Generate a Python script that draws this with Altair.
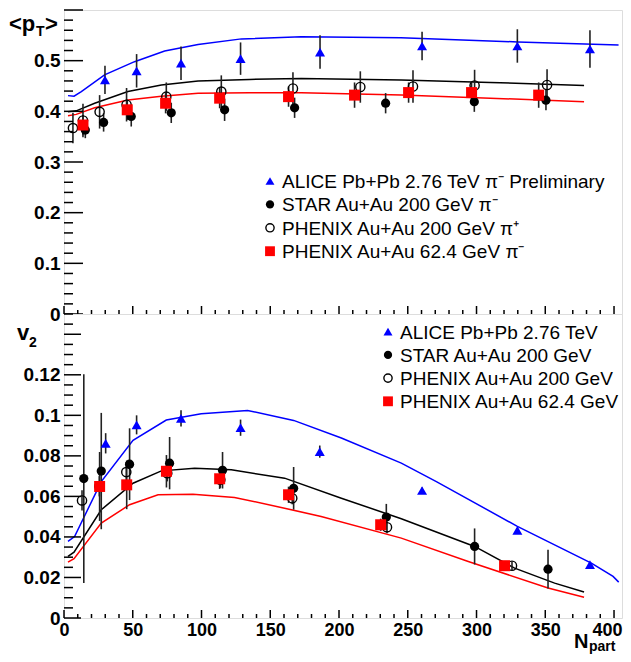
import altair as alt
import pandas as pd

FONT = "Liberation Sans"

# ---------------- axes / ticks ----------------
x_domain = [0, 405.8]
x_major = [0, 50, 100, 150, 200, 250, 300, 350, 400]
x_minor = [v for v in range(0, 401, 10) if v % 50 != 0]

pt_domain = [0, 0.6]
pt_labels = [0, 0.1, 0.2, 0.3, 0.4, 0.5]
pt_major = [0, 0.1, 0.2, 0.3, 0.4, 0.5, 0.6]
pt_minor = [round(i * 0.02, 3) for i in range(31) if i % 5 != 0]

v2_domain = [0, 0.15]
v2_labels = [0, 0.02, 0.04, 0.06, 0.08, 0.1, 0.12]
v2_major = [0, 0.02, 0.04, 0.06, 0.08, 0.1, 0.12, 0.14]
v2_minor = [round(i * 0.005, 4) for i in range(31) if i % 4 != 0]

# ---------------- <pT> panel data ----------------
alice_pt_n = [29.8, 52.8, 85.1, 128.4, 186.2, 260.4, 329.7, 382.5]
alice_pt = [0.462, 0.480, 0.495, 0.504, 0.517, 0.529, 0.529, 0.523]
alice_pt_err = [0.028, 0.033, 0.033, 0.032, 0.033, 0.028, 0.033, 0.037]

star_pt_n = [15.5, 28.8, 48.9, 78.0, 116.8, 167.7, 233.9, 298.4, 350.5]
star_pt = [0.363, 0.378, 0.390, 0.397, 0.403, 0.407, 0.416, 0.419, 0.422]
star_pt_err = [0.016, 0.018, 0.02, 0.02, 0.022, 0.02, 0.02, 0.02, 0.02]

phx200_pt_n = [6.5, 13.8, 25.9, 45.5, 74.4, 114.4, 166.5, 215.5, 253.8, 298.6, 351.3]
phx200_pt = [0.367, 0.382, 0.399, 0.413, 0.429, 0.439, 0.445, 0.448, 0.449, 0.451, 0.452]
phx200_pt_err = [0.03, 0.033, 0.033, 0.033, 0.028, 0.032, 0.032, 0.031, 0.032, 0.031, 0.031]

phx62_pt_n = [13.8, 46.0, 73.9, 113.2, 163.3, 211.3, 250.6, 296.4, 345.2]
phx62_pt = [0.373, 0.403, 0.416, 0.426, 0.429, 0.432, 0.437, 0.437, 0.432]
phx62_pt_err = [0.02, 0.02, 0.02, 0.02, 0.02, 0.025, 0.02, 0.02, 0.025]

curve_blue_pt_n = [2.9, 7.3, 12.6, 29.5, 51.3, 73.2, 97.5, 129, 172.6, 245, 330, 403.3]
curve_blue_pt = [0.431, 0.430, 0.439, 0.472, 0.498, 0.519, 0.532, 0.543, 0.547, 0.545, 0.537, 0.531]
curve_black_pt_n = [2.9, 8.9, 22.3, 46.5, 70.8, 97.5, 135, 172.6, 245.3, 310, 378.2]
curve_black_pt = [0.399, 0.401, 0.416, 0.439, 0.452, 0.460, 0.463, 0.465, 0.462, 0.457, 0.451]
curve_red_pt_n = [2.9, 8.9, 22.3, 46.5, 70.8, 97.5, 135, 172.6, 245.3, 310, 378.2]
curve_red_pt = [0.3915, 0.394, 0.407, 0.4225, 0.430, 0.4355, 0.4365, 0.4369, 0.4323, 0.426, 0.419]

# ---------------- v2 panel data ----------------
alice_v2_n = [30.3, 52.8, 85.1, 128.4, 186.0, 260.4, 329.7, 382.5]
alice_v2 = [0.0862, 0.0953, 0.0985, 0.0939, 0.0821, 0.0629, 0.0432, 0.0263]
alice_v2_err = [0.005, 0.0047, 0.004, 0.004, 0.003, 0.0015, 0.0012, 0.001]

star_v2_n = [14.4, 27.1, 47.7, 76.8, 115.3, 167.0, 234.4, 298.6, 352.0]
star_v2 = [0.0688, 0.0725, 0.0759, 0.0764, 0.0729, 0.0640, 0.0498, 0.0353, 0.0241]
star_v2_err = [0.0515, 0.0287, 0.0177, 0.0129, 0.009, 0.0105, 0.0065, 0.0089, 0.0096]

phx200_v2_n = [13.1, 25.7, 45.3, 75.1, 113.7, 166.0, 234.9, 325.8]
phx200_v2 = [0.058, 0.065, 0.072, 0.0714, 0.0682, 0.0591, 0.0448, 0.0258]
phx200_v2_err = [0.005, 0.005, 0.005, 0.004, 0.004, 0.003, 0.003, 0.002]

phx62_v2_n = [25.9, 45.6, 74.5, 113.2, 163.3, 230.3, 320.4]
phx62_v2 = [0.0649, 0.0657, 0.0724, 0.0687, 0.0608, 0.046, 0.0258]
phx62_v2_err = [0.017, 0.012, 0.008, 0.005, 0.004, 0.003, 0.002]

curve_blue_v2_n = [2.9, 7.7, 27.1, 50.2, 74.4, 99.8, 133.5, 167.0, 201.7, 245.3, 270.8, 329.7, 383.5, 399.3, 403.4]
curve_blue_v2 = [0.0378, 0.0402, 0.0673, 0.0877, 0.0977, 0.1008, 0.1024, 0.0975, 0.0888, 0.0764, 0.0673, 0.0452, 0.0271, 0.0205, 0.0177]
curve_black_v2_n = [2.9, 7.3, 27.1, 50.2, 70.8, 95, 121.7, 160.4, 201.7, 245.3, 298.6, 327.7, 356.8, 378.2]
curve_black_v2 = [0.0304, 0.0325, 0.0534, 0.0665, 0.0726, 0.0739, 0.0731, 0.0690, 0.0591, 0.0490, 0.0353, 0.0246, 0.0172, 0.0128]
curve_red_v2_n = [2.9, 7.3, 27.1, 47.7, 68.4, 93.8, 124, 160.4, 187, 245.3, 294, 352, 378.2]
curve_red_v2 = [0.0276, 0.0293, 0.0468, 0.0559, 0.0608, 0.0611, 0.0595, 0.0542, 0.0501, 0.0394, 0.0279, 0.0148, 0.0102]

legend_pt_labels = [
    "ALICE Pb+Pb 2.76 TeV \u03c0\u207b Preliminary",
    "STAR Au+Au 200 GeV \u03c0\u207b",
    "PHENIX Au+Au 200 GeV \u03c0\u207a",
    "PHENIX Au+Au 62.4 GeV \u03c0\u207b",
]
legend_v2_labels = [
    "ALICE Pb+Pb 2.76 TeV",
    "STAR Au+Au 200 GeV",
    "PHENIX Au+Au 200 GeV",
    "PHENIX Au+Au 62.4 GeV",
]

# ---------------- styles ----------------
W = 558
H = 304
MARKERS = [
    dict(shape="triangle-up", filled=True, color="#0000ff", size=100, opacity=1),
    dict(shape="circle", filled=True, color="black", size=85, opacity=1),
    dict(shape="circle", filled=False, color="black", strokeWidth=1.4, size=85, opacity=1),
    dict(shape="square", filled=True, color="#ff0000", size=121, opacity=1),
]
CURVE_COLORS = ["#0000ff", "black", "#ff0000"]


def panel(ydom, ylabels, ymaj, ymin, majlen, curves, series, legend_labels,
          leg_x, leg_y0, leg_dy, show_x_labels, extras):
    xsc = alt.Scale(domain=x_domain, nice=False, zero=False)
    ysc = alt.Scale(domain=ydom, nice=False, zero=False)
    yax = alt.Axis(values=ylabels, format="~g", ticks=False, domain=False, grid=False,
                   labelFont=FONT, labelFontSize=19, labelFontWeight="bold",
                   labelColor="black", labelPadding=4, labelFlush=False,
                   labelOverlap=False, title=None)
    if show_x_labels:
        xax = alt.Axis(values=x_major, format="d", ticks=False, domain=False, grid=False,
                       labelFont=FONT, labelFontSize=18, labelFontWeight="bold",
                       labelColor="black", labelPadding=3, labelFlush=False,
                       labelOverlap=False, title=None,
                       labelOffset={"condition": {"test": "datum.value >= 400", "value": -7},
                                    "value": 0})
    else:
        xax = None

    def X(f):
        return alt.X(f, type="quantitative", scale=xsc, axis=xax)

    def Y(f):
        return alt.Y(f, type="quantitative", scale=ysc, axis=yax)

    layers = []
    for (cn, cv), col in zip(curves, CURVE_COLORS):
        df = pd.DataFrame({"n": cn, "v": cv})
        layers.append(alt.Chart(df).mark_line(color=col, strokeWidth=1.5)
                      .encode(x=X("n"), y=Y("v"), order="n:Q"))
    for (n, v, e) in series:
        df = pd.DataFrame({"n": n, "lo": [a - b for a, b in zip(v, e)],
                           "hi": [a + b for a, b in zip(v, e)]})
        layers.append(alt.Chart(df).mark_rule(color="#222222", strokeWidth=1.6)
                      .encode(x=X("n"), y=Y("lo"), y2="hi"))
    order = [1, 2, 3, 0]
    for i in order:
        n, v, e = series[i]
        df = pd.DataFrame({"n": n, "v": v})
        layers.append(alt.Chart(df).mark_point(**MARKERS[i]).encode(x=X("n"), y=Y("v")))

    # ticks on the inside of the frame
    layers.append(alt.Chart(pd.DataFrame({"t": ymaj})).mark_rule(color="black", strokeWidth=1.5)
                  .encode(y=Y("t"), x=alt.value(0), x2=alt.value(majlen)))
    layers.append(alt.Chart(pd.DataFrame({"t": ymin})).mark_rule(color="black", strokeWidth=1.5)
                  .encode(y=Y("t"), x=alt.value(0), x2=alt.value(9)))
    layers.append(alt.Chart(pd.DataFrame({"t": x_major})).mark_rule(color="black", strokeWidth=1.5)
                  .encode(x=X("t"), y=alt.value(H), y2=alt.value(H - 8)))
    layers.append(alt.Chart(pd.DataFrame({"t": x_minor})).mark_rule(color="black", strokeWidth=1.5)
                  .encode(x=X("t"), y=alt.value(H), y2=alt.value(H - 4)))

    # legend
    one = pd.DataFrame({"a": [0]})
    for i, lab in enumerate(legend_labels):
        yy = leg_y0 + i * leg_dy
        spec = dict(MARKERS[i])
        spec["size"] = spec["size"] * 0.8
        layers.append(alt.Chart(one).mark_point(**spec)
                      .encode(x=alt.value(leg_x), y=alt.value(yy)))
        layers.append(alt.Chart(one).mark_text(align="left", baseline="middle", font=FONT,
                                               fontSize=19, color="black")
                      .encode(x=alt.value(leg_x + 12), y=alt.value(yy + 1), text=alt.value(lab)))
    # titles
    for (txt, x, y, fs) in extras:
        layers.append(alt.Chart(one).mark_text(align="left", baseline="alphabetic", font=FONT,
                                               fontSize=fs, fontWeight="bold", color="black")
                      .encode(x=alt.value(x), y=alt.value(y), text=alt.value(txt)))
    return alt.layer(*layers).properties(width=W, height=H)


top = panel(
    pt_domain, pt_labels, pt_major, pt_minor, 19,
    [(curve_blue_pt_n, curve_blue_pt), (curve_black_pt_n, curve_black_pt),
     (curve_red_pt_n, curve_red_pt)],
    [(alice_pt_n, alice_pt, alice_pt_err), (star_pt_n, star_pt, star_pt_err),
     (phx200_pt_n, phx200_pt, phx200_pt_err), (phx62_pt_n, phx62_pt, phx62_pt_err)],
    legend_pt_labels, 206, 171, 23.4, False,
    [("<p", -55, 21, 22), ("T", -28, 26, 14), (">", -19, 21, 22)],
)

bottom = panel(
    v2_domain, v2_labels, v2_major, v2_minor, 17,
    [(curve_blue_v2_n, curve_blue_v2), (curve_black_v2_n, curve_black_v2),
     (curve_red_v2_n, curve_red_v2)],
    [(alice_v2_n, alice_v2, alice_v2_err), (star_v2_n, star_v2, star_v2_err),
     (phx200_v2_n, phx200_v2, phx200_v2_err), (phx62_v2_n, phx62_v2, phx62_v2_err)],
    legend_v2_labels, 324, 17.7, 23.2, True,
    [("v", -47, 26, 22), ("2", -35, 33, 14), ("N", 510, 334, 20), ("part", 525, 337, 14)],
)

chart = (
    alt.vconcat(top, bottom, spacing=0, bounds="flush")
    .resolve_scale(x="independent", y="independent")
    .properties(padding={"left": 0, "top": 0, "right": 0, "bottom": 0})
    .configure_view(stroke="black", strokeWidth=2)
    .configure(background="white")
)

chart.save("out.html", embed_options={"renderer": "svg", "actions": False})
